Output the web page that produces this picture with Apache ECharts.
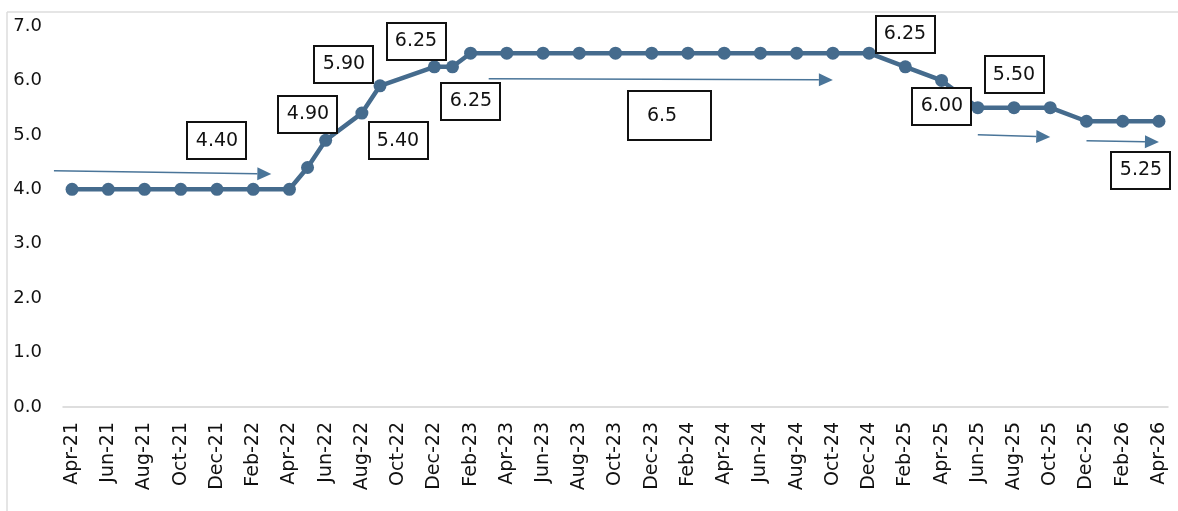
<!DOCTYPE html>
<html>
<head>
<meta charset="utf-8">
<script src="https://cdn.jsdelivr.net/npm/echarts@6/dist/echarts.min.js"></script>
<style>
html,body{margin:0;padding:0;background:#fff;}
#c{width:1178px;height:511px;}
</style>
</head>
<body>
<div id="c"></div>
<script>
// Monthly categories, Apr-21 .. Apr-26 (labels shown every other month)
const months = ['Apr-21','May-21','Jun-21','Jul-21','Aug-21','Sep-21','Oct-21','Nov-21','Dec-21','Jan-22',
  'Feb-22','Mar-22','Apr-22','May-22','Jun-22','Jul-22','Aug-22','Sep-22','Oct-22','Nov-22',
  'Dec-22','Jan-23','Feb-23','Mar-23','Apr-23','May-23','Jun-23','Jul-23','Aug-23','Sep-23',
  'Oct-23','Nov-23','Dec-23','Jan-24','Feb-24','Mar-24','Apr-24','May-24','Jun-24','Jul-24',
  'Aug-24','Sep-24','Oct-24','Nov-24','Dec-24','Jan-25','Feb-25','Mar-25','Apr-25','May-25',
  'Jun-25','Jul-25','Aug-25','Sep-25','Oct-25','Nov-25','Dec-25','Jan-26','Feb-26','Mar-26','Apr-26'];

// Policy rate (null = no marker that month)
const policyRate = [4.0,null,4.0,null,4.0,null,4.0,null,4.0,null,
  4.0,null,4.0,4.40,4.90,null,5.40,5.90,null,null,
  6.25,6.25,6.5,null,6.5,null,6.5,null,6.5,null,
  6.5,null,6.5,null,6.5,null,6.5,null,6.5,null,
  6.5,null,6.5,null,6.5,null,6.25,null,6.0,null,
  5.5,null,5.5,null,5.5,null,5.25,null,5.25,null,5.25];

// Boxed annotations: text, x position (month index), y position (rate)
const boxText  = ['4.40','4.90','5.90','5.40','6.25','6.25','6.5','6.25','6.00','5.50','5.25'];
const boxMonth = [8.0, 13.08, 15.46, 18.05, 19.27, 21.81, 32.8, 45.99, 48.2, 52.0, 59.08];
const boxRate  = [4.89, 5.38, 6.30, 4.89, 6.72, 5.62, 5.35, 6.85, 5.53, 6.10, 4.35];

// Arrows: start/end in (month index, rate)
const arrowFromMonth = [-1.27, 22.97, 49.69, 55.6];
const arrowFromRate  = [4.34, 6.03, 5.00, 4.89];
const arrowToMonth   = [10.82, 41.96, 54.11, 60.18];
const arrowToRate    = [4.28, 6.01, 4.96, 4.87];

const yTicks = [0,1,2,3,4,5,6,7];

const LINE = '#456b8d';
const chart = echarts.init(document.getElementById('c'), null, {renderer:'canvas'});
chart.setOption({
  animation:false,
  grid:{left:63,right:10,top:26,bottom:104},
  xAxis:{
    type:'category',
    data:months,
    boundaryGap:true,
    axisLine:{lineStyle:{color:'#d4d4d4',width:1.5}},
    axisTick:{interval:1,length:6,lineStyle:{color:'#d4d4d4',width:1.5}},
    axisLabel:{interval:1,rotate:90,margin:15,color:'#111',fontFamily:'DejaVu Sans',fontSize:19}
  },
  yAxis:{
    type:'value',min:yTicks[0],max:yTicks[yTicks.length-1],interval:1,
    axisLine:{show:false},axisTick:{show:false},splitLine:{show:false},
    axisLabel:{margin:21,color:'#111',fontFamily:'DejaVu Sans',fontSize:18,formatter:v=>v.toFixed(1)}
  },
  series:[{
    type:'line',
    data:policyRate,
    connectNulls:true,
    showAllSymbol:true,
    symbol:'circle',
    symbolSize:13,
    itemStyle:{color:LINE},
    lineStyle:{color:LINE,width:4.5}
  }],
  graphic:[]
});

function px(m,r){return chart.convertToPixel({gridIndex:0},[m,r]);}
const g = [];
// frame lines
g.push({type:'line',shape:{x1:7,y1:12,x2:1178,y2:12},style:{stroke:'#dcdcdc',lineWidth:1.5},silent:true});
g.push({type:'line',shape:{x1:7,y1:12,x2:7,y2:511},style:{stroke:'#dcdcdc',lineWidth:1.5},silent:true});
// arrows
const AR = '#4a7599';
for(let i=0;i<arrowFromMonth.length;i++){
  const a = px(arrowFromMonth[i],arrowFromRate[i]);
  const b = px(arrowToMonth[i],arrowToRate[i]);
  const ang = Math.atan2(b[1]-a[1],b[0]-a[0]);
  const L=14, W=6.5;
  const bx = b[0]-L*Math.cos(ang), by = b[1]-L*Math.sin(ang);
  g.push({type:'line',shape:{x1:a[0],y1:a[1],x2:bx,y2:by},style:{stroke:AR,lineWidth:1.5},silent:true});
  g.push({type:'polygon',shape:{points:[[b[0],b[1]],[bx-W*Math.sin(ang),by+W*Math.cos(ang)],[bx+W*Math.sin(ang),by-W*Math.cos(ang)]]},style:{fill:AR},silent:true});
}
// boxes
for(let i=0;i<boxText.length;i++){
  const p = px(boxMonth[i],boxRate[i]);
  const big = boxText[i]==='6.5';
  const w = big?83:59, h = big?49:37;
  g.push({type:'rect',shape:{x:Math.round(p[0]-w/2),y:Math.round(p[1]-h/2),width:w,height:h},
    style:{fill:'#fff',stroke:'#111',lineWidth:2},z:100,silent:true});
  g.push({type:'text',x:Math.round(p[0]-(big?8:0)),y:Math.round(p[1]),z:101,silent:true,
    style:{text:boxText[i],fill:'#111',font:'19px "DejaVu Sans"',textAlign:'center',textVerticalAlign:'middle'}});
}
chart.setOption({graphic:g});
</script>
</body>
</html>
